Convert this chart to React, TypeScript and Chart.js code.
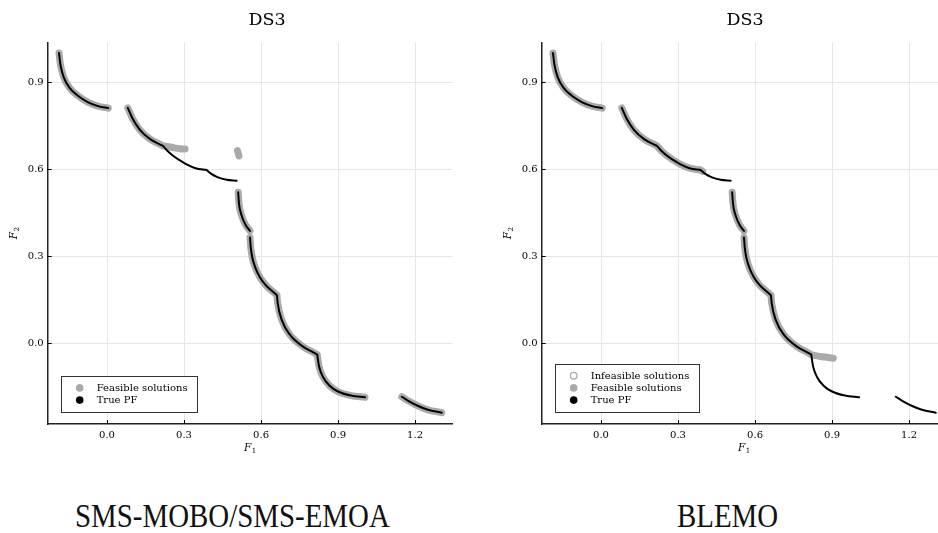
import React, { useEffect, useRef } from 'react';
import { Chart, registerables } from 'chart.js';

Chart.register(...registerables);

// ---- axis settings ----
const X_TICKS = [0.0, 0.3, 0.6, 0.9, 1.2];
const Y_TICKS = [0.0, 0.3, 0.6, 0.9];
const X_RANGE = [-0.231, 1.345];
const Y_RANGE = [-0.279, 1.037];

// ---- True Pareto front arcs [F1, F2] ----
const PF_A: number[][] = [[-0.187, 1.0], [-0.181, 0.958], [-0.168, 0.915], [-0.145, 0.879], [-0.112, 0.852], [-0.075, 0.831], [-0.035, 0.817], [0.005, 0.81]];
const PF_B1: number[][] = [[0.081, 0.811], [0.099, 0.775], [0.129, 0.734], [0.168, 0.703], [0.218, 0.68]];
const PF_B2: number[][] = [[0.218, 0.68], [0.236, 0.662], [0.256, 0.647], [0.282, 0.631], [0.308, 0.617], [0.345, 0.603], [0.388, 0.597]];
const PF_B3: number[][] = [[0.388, 0.597], [0.405, 0.584], [0.43, 0.572], [0.466, 0.563], [0.505, 0.56]];
const PF_C: number[][] = [[0.511, 0.52], [0.514, 0.482], [0.524, 0.441], [0.54, 0.407], [0.557, 0.387]];
const PF_D1: number[][] = [[0.557, 0.364], [0.56, 0.33], [0.566, 0.295], [0.577, 0.262], [0.595, 0.228], [0.62, 0.198], [0.645, 0.178], [0.662, 0.165]];
const PF_D2: number[][] = [[0.662, 0.165], [0.665, 0.137], [0.681, 0.079], [0.713, 0.028], [0.765, -0.013], [0.8, -0.03], [0.819, -0.04]];
const PF_D3: number[][] = [[0.819, -0.04], [0.826, -0.08], [0.842, -0.118], [0.866, -0.146], [0.9, -0.167], [0.95, -0.181], [1.005, -0.187]];
const PF_E: number[][] = [[1.148, -0.185], [1.175, -0.2], [1.21, -0.216], [1.25, -0.23], [1.304, -0.24]];

// ---- SMS-MOBO/SMS-EMOA feasible solutions (off-front parts) ----
const SMS_TAIL: number[][] = [[0.218, 0.68], [0.24, 0.677], [0.262, 0.673], [0.285, 0.67], [0.304, 0.669]];
const SMS_ISOLATED: number[][] = [[0.508, 0.664], [0.511, 0.655], [0.514, 0.645]];

// ---- BLEMO feasible solutions (off-front parts) ----
const BLEMO_B2_END: number[][] = [[0.388, 0.597], [0.396, 0.592]];
const BLEMO_TAIL: number[][] = [[0.819, -0.04], [0.84, -0.044], [0.863, -0.047], [0.885, -0.05], [0.905, -0.052]];
const BLEMO_INFEASIBLE: number[][] = [];

const PF_RUNS = [PF_A, PF_B1, PF_B2, PF_B3, PF_C, PF_D1, PF_D2, PF_D3, PF_E];
const SMS_RUNS = [PF_A, PF_B1, SMS_TAIL, SMS_ISOLATED, PF_C, PF_D1, PF_D2, PF_D3, PF_E];
const BLEMO_RUNS = [PF_A, PF_B1, PF_B2, BLEMO_B2_END, PF_C, PF_D1, PF_D2, BLEMO_TAIL];

const GRAY = '#aaaaaa';
const SERIF = '"DejaVu Serif"';

function joinRuns(runs: number[][][]) {
  const out: { x: number; y: number }[] = [];
  runs.forEach((r, i) => {
    if (i > 0) out.push({ x: NaN, y: NaN });
    r.forEach(([x, y]) => out.push({ x, y }));
  });
  return out;
}

function drawSub(ctx: CanvasRenderingContext2D, cx: number, by: number, main: string, sub: string) {
  ctx.font = `italic 10.5px ${SERIF}`;
  const wF = ctx.measureText(main).width;
  ctx.font = `7px ${SERIF}`;
  const wS = ctx.measureText(sub).width;
  const total = wF + 0.5 + wS;
  const sx = cx - total / 2;
  ctx.textAlign = 'left';
  ctx.textBaseline = 'alphabetic';
  ctx.font = `italic 10.5px ${SERIF}`;
  ctx.fillText(main, sx, by);
  ctx.font = `7px ${SERIF}`;
  ctx.fillText(sub, sx + wF + 0.5, by + 2.5);
}

const decorPlugin = {
  id: 'decor',
  afterDraw(chart: any, _args: any, opts: any) {
    const { ctx, chartArea: ca, scales } = chart;
    const xs = scales.x;
    const ys = scales.y;
    ctx.save();
    // inward ticks
    ctx.strokeStyle = '#000';
    ctx.lineWidth = 1;
    ctx.beginPath();
    X_TICKS.forEach((v) => {
      const px = Math.round(xs.getPixelForValue(v)) + 0.5;
      ctx.moveTo(px, ca.bottom);
      ctx.lineTo(px, ca.bottom - 4);
    });
    Y_TICKS.forEach((v) => {
      const py = Math.round(ys.getPixelForValue(v)) + 0.5;
      ctx.moveTo(ca.left, py);
      ctx.lineTo(ca.left + 4, py);
    });
    ctx.stroke();

    // title
    ctx.fillStyle = '#000';
    ctx.font = `17.5px ${SERIF}`;
    ctx.textAlign = 'center';
    ctx.textBaseline = 'alphabetic';
    ctx.fillText(opts.title, opts.titleX, 25);

    // axis labels
    drawSub(ctx, (ca.left + ca.right) / 2, ca.bottom + 26.5, 'F', '1');
    ctx.save();
    ctx.translate(ca.left - 31, (ca.top + ca.bottom) / 2);
    ctx.rotate(-Math.PI / 2);
    drawSub(ctx, 0, 0, 'F', '2');
    ctx.restore();

    // legend box
    const items = chart.data.datasets.filter((d: any) => d.legendMarker);
    ctx.font = `10px ${SERIF}`;
    const textW = Math.max(...items.map((d: any) => ctx.measureText(d.label).width));
    const rowH = 12.2;
    const boxH = 23.6 + (items.length - 1) * rowH;
    const boxL = ca.left + 13;
    const boxB = ca.bottom - 12.3;
    const boxT = boxB - boxH;
    const boxW = 36 + textW + 9;
    ctx.fillStyle = '#fff';
    ctx.fillRect(boxL, boxT, boxW, boxH);
    ctx.strokeStyle = '#333';
    ctx.lineWidth = 1;
    ctx.strokeRect(Math.round(boxL) + 0.5, Math.round(boxT) + 0.5, Math.round(boxW), Math.round(boxH));
    items.forEach((d: any, i: number) => {
      const cy = boxT + 12 + i * rowH;
      const m = d.legendMarker;
      ctx.beginPath();
      ctx.arc(boxL + 19, cy, m.stroke ? 3.3 : 3.8, 0, Math.PI * 2);
      if (m.fill) {
        ctx.fillStyle = m.fill;
        ctx.fill();
      }
      if (m.stroke) {
        ctx.strokeStyle = m.stroke;
        ctx.lineWidth = 1.3;
        ctx.stroke();
      }
      ctx.fillStyle = '#000';
      ctx.font = `10px ${SERIF}`;
      ctx.textAlign = 'left';
      ctx.textBaseline = 'middle';
      ctx.fillText(d.label, boxL + 36, cy + 0.5);
    });
    ctx.restore();
  },
};

interface PanelProps {
  left: number;
  width: number;
  padLeft: number;
  padRight: number;
  titleX: number;
  feasibleRuns: number[][][];
  infeasible?: number[][] | null;
}

const HEIGHT = 470;

function Panel({ left, width, padLeft, padRight, titleX, feasibleRuns, infeasible }: PanelProps) {
  const ref = useRef<HTMLCanvasElement | null>(null);
  useEffect(() => {
    if (!ref.current) return;
    const datasets: any[] = [];
    if (infeasible) {
      datasets.push({
        label: 'Infeasible solutions',
        data: infeasible.map(([x, y]) => ({ x, y })),
        showLine: false,
        pointRadius: 3.5,
        pointBackgroundColor: 'rgba(0,0,0,0)',
        pointBorderColor: GRAY,
        pointBorderWidth: 1.3,
        legendMarker: { fill: '#fff', stroke: GRAY },
        order: 2,
      });
    }
    datasets.push({
      label: 'Feasible solutions',
      data: joinRuns(feasibleRuns),
      showLine: true,
      spanGaps: false,
      borderColor: GRAY,
      backgroundColor: GRAY,
      borderWidth: 7,
      borderCapStyle: 'round',
      borderJoinStyle: 'round',
      cubicInterpolationMode: 'monotone',
      pointRadius: 0,
      legendMarker: { fill: GRAY },
      order: 1,
    });
    datasets.push({
      label: 'True PF',
      data: joinRuns(PF_RUNS),
      showLine: true,
      spanGaps: false,
      borderColor: '#000',
      backgroundColor: '#000',
      borderWidth: 2,
      borderCapStyle: 'round',
      borderJoinStyle: 'round',
      cubicInterpolationMode: 'monotone',
      pointRadius: 0,
      legendMarker: { fill: '#000' },
      order: 0,
    });

    const tickFont = { family: SERIF, size: 10 };
    const chart = new Chart(ref.current, {
      type: 'scatter',
      data: { datasets },
      options: {
        animation: false,
        responsive: false,
        devicePixelRatio: 1,
        layout: { padding: { left: padLeft, right: padRight, top: 42.3, bottom: 16 } },
        plugins: {
          legend: { display: false },
          tooltip: { enabled: false },
          decor: { title: 'DS3', titleX },
        } as any,
        scales: {
          x: {
            type: 'linear',
            min: X_RANGE[0],
            max: X_RANGE[1],
            afterBuildTicks: (s: any) => {
              s.ticks = X_TICKS.map((v) => ({ value: v }));
            },
            afterFit: (s: any) => {
              s.height = 30;
            },
            ticks: {
              font: tickFont,
              color: '#000',
              padding: 5,
              maxRotation: 0,
              callback: (v: any) => Number(v).toFixed(1),
            },
            grid: { color: '#e6e6e6', lineWidth: 1, drawTicks: false },
            border: { display: true, color: '#222', width: 1.5 },
          },
          y: {
            type: 'linear',
            min: Y_RANGE[0],
            max: Y_RANGE[1],
            afterBuildTicks: (s: any) => {
              s.ticks = Y_TICKS.map((v) => ({ value: v }));
            },
            afterFit: (s: any) => {
              s.width = 40;
            },
            ticks: {
              font: tickFont,
              color: '#000',
              padding: 4,
              callback: (v: any) => Number(v).toFixed(1),
            },
            grid: { color: '#e6e6e6', lineWidth: 1, drawTicks: false },
            border: { display: true, color: '#222', width: 1.5 },
          },
        },
      } as any,
      plugins: [decorPlugin as any],
    });
    return () => chart.destroy();
  }, []);
  return (
    <canvas
      ref={ref}
      width={width}
      height={HEIGHT}
      style={{ position: 'absolute', left, top: 0, width, height: HEIGHT }}
    />
  );
}

const captionStyle: React.CSSProperties = {
  position: 'absolute',
  top: 499,
  fontFamily: '"Liberation Serif", serif',
  fontSize: 34,
  lineHeight: '34px',
  color: '#111',
  whiteSpace: 'nowrap',
  transform: 'scaleX(0.85)',
  transformOrigin: 'left top',
};

export default function App() {
  return (
    <div
      style={{
        position: 'fixed',
        left: 0,
        top: 0,
        width: 938,
        height: 533,
        overflow: 'hidden',
        background: '#fff',
      }}
    >
      <Panel left={0} width={470} padLeft={7.7} padRight={17.7} titleX={267} feasibleRuns={SMS_RUNS} />
      <Panel
        left={470}
        width={480}
        padLeft={31.7}
        padRight={3.7}
        titleX={275}
        feasibleRuns={BLEMO_RUNS}
        infeasible={BLEMO_INFEASIBLE}
      />
      <div style={{ ...captionStyle, left: 75 }}>SMS-MOBO/SMS-EMOA</div>
      <div style={{ ...captionStyle, left: 677 }}>BLEMO</div>
    </div>
  );
}
